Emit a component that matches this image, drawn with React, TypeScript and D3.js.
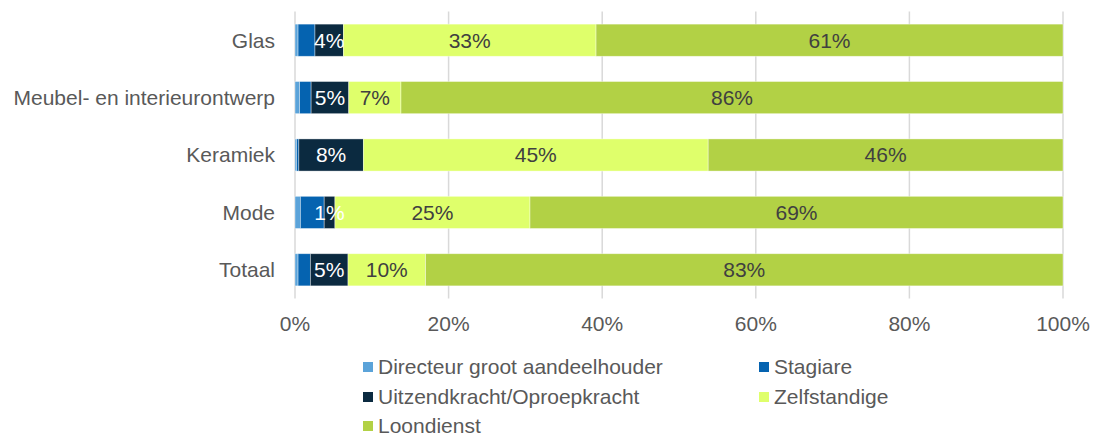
import React from "react";
import * as d3 from "d3";

const categories = ["Glas", "Meubel- en interieurontwerp", "Keramiek", "Mode", "Totaal"];
const seriesNames = [
  "Directeur groot aandeelhouder",
  "Stagiare",
  "Uitzendkracht/Oproepkracht",
  "Zelfstandige",
  "Loondienst",
];
const directeur = [0.4, 0.6, 0.2, 0.7, 0.4];
const stagiare = [2.2, 1.5, 0.3, 3.1, 1.6];
const uitzend = [3.7, 4.9, 8.4, 1.4, 4.9];
const zelfstandige = [32.9, 6.8, 44.9, 25.4, 10.1];
const loondienst = [60.8, 86.2, 46.2, 69.4, 83.0];
const xTicks = [0, 20, 40, 60, 80, 100];

const colors = ["#5BA3D9", "#0563B0", "#0B2A40", "#DFFF6B", "#B2D145"];
const labelColors = [null, null, "#FFFFFF", "#404040", "#404040"];
const FONT = "Liberation Sans, Arial, sans-serif";
const FS = 21;

export default function App() {
  const W = 1093;
  const H = 438;
  const x = d3.scaleLinear().domain([0, 100]).range([295, 1063]);
  const y = d3.scaleBand<string>().domain(categories).range([11.5, 298.5]).paddingInner(0.44).paddingOuter(0.22);

  const rows = categories.map((c, i) => ({
    cat: c,
    s0: directeur[i],
    s1: stagiare[i],
    s2: uitzend[i],
    s3: zelfstandige[i],
    s4: loondienst[i],
  }));
  const keys = ["s0", "s1", "s2", "s3", "s4"];
  const stack = d3.stack<any>().keys(keys).offset(d3.stackOffsetExpand);
  const layers = stack(rows);

  const legendItems = [
    { i: 0, lx: 363, ly: 367 },
    { i: 1, lx: 759, ly: 367 },
    { i: 2, lx: 363, ly: 397 },
    { i: 3, lx: 759, ly: 397 },
    { i: 4, lx: 363, ly: 426 },
  ];

  return (
    <svg
      width={W}
      height={H}
      style={{ position: "absolute", left: 0, top: 0, background: "#fff" }}
      fontFamily={FONT}
    >
      {xTicks.map((t) => (
        <line key={"g" + t} x1={x(t)} x2={x(t)} y1={11.5} y2={298.5} stroke="#D9D9D9" strokeWidth={1.5} />
      ))}
      {layers.map((layer, li) => (
        <g key={"l" + li} fill={colors[li]}>
          {layer.map((d, di) => {
            const x0 = x(d[0] * 100);
            const x1 = x(d[1] * 100);
            return (
              <rect
                key={di}
                x={x0}
                y={y(categories[di])}
                width={Math.max(0, x1 - x0)}
                height={y.bandwidth()}
                stroke="#ffffff"
                strokeOpacity={0.5}
                strokeWidth={0.75}
              />
            );
          })}
        </g>
      ))}
      {layers.map((layer, li) =>
        labelColors[li]
          ? layer.map((d, di) => {
              const v = (rows[di] as any)[keys[li]];
              const cx = x(((d[0] + d[1]) / 2) * 100);
              return (
                <text
                  key={"t" + li + "-" + di}
                  x={cx}
                  y={(y(categories[di]) as number) + y.bandwidth() / 2}
                  dy="0.35em"
                  textAnchor="middle"
                  fontSize={FS}
                  fill={labelColors[li] as string}
                >
                  {Math.round(v)}%
                </text>
              );
            })
          : null
      )}
      {categories.map((c) => (
        <text
          key={"c" + c}
          x={275}
          y={(y(c) as number) + y.bandwidth() / 2}
          dy="0.35em"
          textAnchor="end"
          fontSize={FS}
          fill="#595959"
        >
          {c}
        </text>
      ))}
      {xTicks.map((t) => (
        <text key={"xt" + t} x={x(t)} y={331} textAnchor="middle" fontSize={FS} fill="#595959">
          {t}%
        </text>
      ))}
      {legendItems.map(({ i, lx, ly }) => (
        <g key={"lg" + i}>
          <rect x={lx} y={ly - 5} width={10} height={10} fill={colors[i]} />
          <text x={lx + 15} y={ly} dy="0.35em" fontSize={FS} fill="#595959">
            {seriesNames[i]}
          </text>
        </g>
      ))}
    </svg>
  );
}
